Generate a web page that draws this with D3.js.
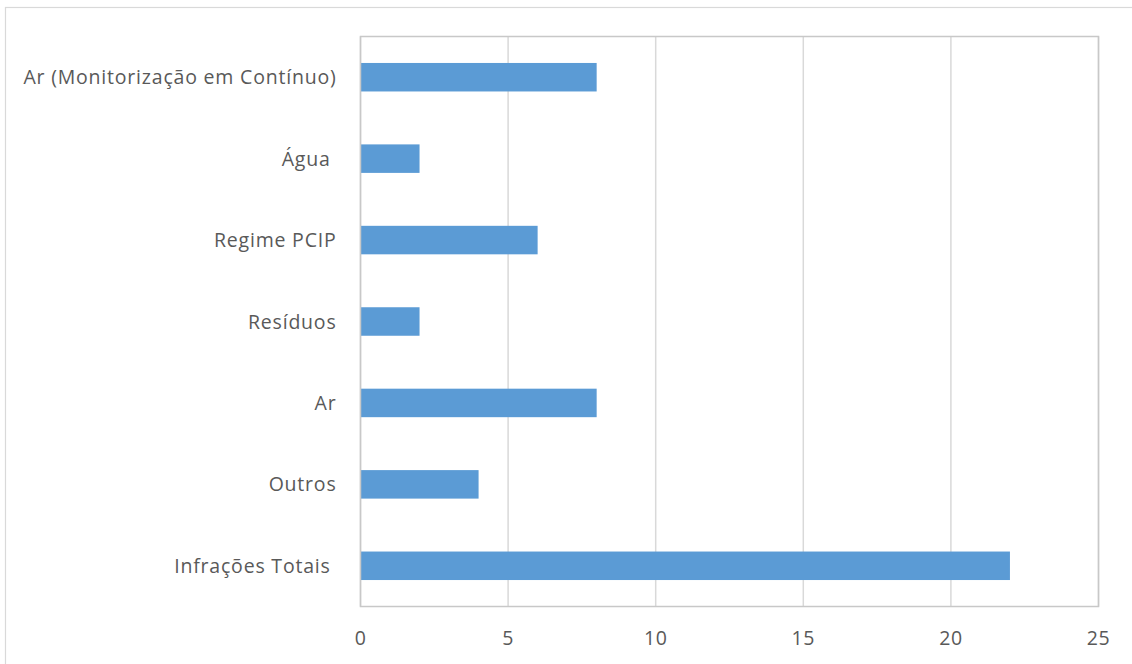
<!DOCTYPE html>
<html><head><meta charset="utf-8">
<script src="https://cdn.jsdelivr.net/npm/d3@7"></script>
<style>body{margin:0;background:#fff;} text{font-family:"Open Sans",sans-serif;fill:#595959;white-space:pre;}</style>
</head><body>
<svg id="c" width="1132" height="664"></svg>
<script>
const categories = ["Ar (Monitorização em Contínuo)", "Água ", "Regime PCIP", "Resíduos", "Ar", "Outros", "Infrações Totais "];
const values = [8, 2, 6, 2, 8, 4, 22];
const xTicks = [0, 5, 10, 15, 20, 25];

const svg = d3.select("#c");
svg.append("rect").attr("x", 5.5).attr("y", 7.5).attr("width", 1140).attr("height", 680)
  .attr("fill", "none").attr("stroke", "#d9d9d9").attr("stroke-width", 1.2);

const L = 360.5, R = 1098.5, T = 36.5, B = 606.5;
const x = d3.scaleLinear().domain([0, 25]).range([L, R]);
const y = d3.scaleBand().domain(categories).range([T, B]).paddingInner(0.65).paddingOuter(0.325);

const g = svg.append("g");
g.selectAll("line.grid").data(xTicks).join("line")
  .attr("x1", d => x(d)).attr("x2", d => x(d)).attr("y1", T).attr("y2", B)
  .attr("stroke", "#d9d9d9").attr("stroke-width", 1.5);

g.selectAll("rect.bar").data(values).join("rect")
  .attr("x", x(0)).attr("y", (d, i) => y(categories[i]))
  .attr("width", d => x(d) - x(0)).attr("height", y.bandwidth())
  .attr("fill", "#5b9bd5");

g.append("rect").attr("x", L).attr("y", T).attr("width", R - L).attr("height", B - T)
  .attr("fill", "none").attr("stroke", "#c8c8c8").attr("stroke-width", 1.5);

g.selectAll("text.xt").data(xTicks).join("text")
  .attr("x", d => x(d)).attr("y", 645).attr("text-anchor", "middle")
  .attr("font-size", 19.5).attr("letter-spacing", 0.6).text(d => d);

g.selectAll("text.yl").data(categories).join("text")
  .attr("x", 336.5).attr("y", d => y(d) + y.bandwidth() / 2 + 7).attr("text-anchor", "end")
  .attr("font-size", 19.5).attr("letter-spacing", 0.8).text(d => d);
</script>
</body></html>
